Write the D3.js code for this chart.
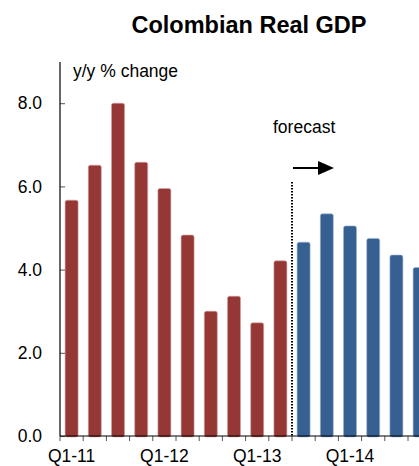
<!DOCTYPE html>
<html>
<head>
<meta charset="utf-8">
<script src="https://cdn.jsdelivr.net/npm/d3@7"></script>
<style>
  body { margin: 0; background: #fff; }
  svg { display: block; font-family: "Liberation Sans", Arial, sans-serif; }
</style>
</head>
<body>
<div id="viz"></div>
<script>
// quarters on the x axis, actuals then forecast
let quarters = ["Q1-11", "Q2-11", "Q3-11", "Q4-11", "Q1-12", "Q2-12", "Q3-12", "Q4-12",
  "Q1-13", "Q2-13", "Q3-13", "Q4-13", "Q1-14", "Q2-14", "Q3-14", "Q4-14"];
let actual = [5.67, 6.51, 8.0, 6.58, 5.95, 4.83, 3.0, 3.36, 2.72, 4.21];
let forecast = [4.66, 5.34, 5.05, 4.75, 4.35, 4.05];
let yTicks = [0, 2, 4, 6, 8];
let shownLabels = ["Q1-11", "Q1-12", "Q1-13", "Q1-14"];

let width = 419;
let height = 466;
let margin = { top: 62, left: 60, bottom: 30 };

let data = quarters.map((q, i) => ({
  q: q,
  value: i < actual.length ? actual[i] : forecast[i - actual.length],
  fc: i >= actual.length,
}));

let svg = d3
  .select("#viz")
  .append("svg")
  .attr("width", width)
  .attr("height", height);

// scales (plot runs past the right edge, as in the original)
let x = d3
  .scaleBand()
  .domain(quarters)
  .range([margin.left, margin.left + 23.2 * quarters.length])
  .paddingInner(0.44)
  .paddingOuter(0.22);

let y = d3.scaleLinear().domain([0, 9.0]).range([436, 436 - 41.6 * 9]);

// title
svg
  .append("text")
  .attr("x", 249)
  .attr("y", 33)
  .attr("text-anchor", "middle")
  .attr("font-weight", "bold")
  .attr("font-size", 23.5)
  .text("Colombian Real GDP");

svg
  .append("text")
  .attr("x", 73)
  .attr("y", 77)
  .attr("font-size", 17.5)
  .text("y/y % change");

// bars
svg
  .append("g")
  .selectAll("rect")
  .data(data)
  .join("rect")
  .attr("x", (d) => x(d.q))
  .attr("y", (d) => y(d.value))
  .attr("width", x.bandwidth())
  .attr("height", (d) => y(0) - y(d.value) + 1)
  .attr("rx", 2)
  .attr("fill", (d) => (d.fc ? "#366092" : "#953735"))
  .attr("stroke", (d) => (d.fc ? "#9fb5d3" : "#d3a3a2"))
  .attr("stroke-width", 0.6);

// y axis
let yAxis = d3
  .axisLeft(y)
  .tickValues(yTicks)
  .tickFormat(d3.format(".1f"))
  .tickSizeInner(-5)
  .tickSizeOuter(0)
  .tickPadding(18);

let gy = svg
  .append("g")
  .attr("transform", `translate(${margin.left},0)`)
  .call(yAxis);
gy.select(".domain").remove();
gy.selectAll("line").attr("stroke", "#555");
gy.selectAll("text")
  .attr("font-size", 17.5)
  .attr("font-family", "Liberation Sans, Arial, sans-serif")
  .attr("fill", "#000");

svg
  .append("line")
  .attr("x1", margin.left)
  .attr("x2", margin.left)
  .attr("y1", margin.top)
  .attr("y2", y(0))
  .attr("stroke", "#000")
  .attr("stroke-width", 1.2);

// x axis: labels at bar centres, ticks at band edges
let xAxis = d3
  .axisBottom(x)
  .tickValues(shownLabels)
  .tickSize(0)
  .tickPadding(14);

let gx = svg.append("g").attr("transform", `translate(0,${y(0)})`).call(xAxis);
gx.select(".domain").remove();
gx.selectAll("text")
  .attr("font-size", 17.5)
  .attr("font-family", "Liberation Sans, Arial, sans-serif")
  .attr("fill", "#000");

let step = x.step();
let edges = quarters.map((q) => x(q) - x.paddingOuter() * step);
svg
  .append("g")
  .selectAll("line")
  .data(edges)
  .join("line")
  .attr("x1", (d) => d)
  .attr("x2", (d) => d)
  .attr("y1", y(0))
  .attr("y2", y(0) + 5)
  .attr("stroke", "#555");

svg
  .append("line")
  .attr("x1", margin.left)
  .attr("x2", width)
  .attr("y1", y(0))
  .attr("y2", y(0))
  .attr("stroke", "#000")
  .attr("stroke-width", 1.2);

// forecast divider
let divX = x(quarters[actual.length]) - x.paddingOuter() * step;
svg
  .append("line")
  .attr("x1", divX)
  .attr("x2", divX)
  .attr("y1", 182)
  .attr("y2", y(0))
  .attr("stroke", "#000")
  .attr("stroke-width", 2)
  .attr("stroke-dasharray", "1.6,1.4");

svg
  .append("text")
  .attr("x", 273)
  .attr("y", 133)
  .attr("font-size", 17.5)
  .text("forecast");

svg
  .append("line")
  .attr("x1", divX + 1)
  .attr("x2", divX + 28)
  .attr("y1", 168)
  .attr("y2", 168)
  .attr("stroke", "#000")
  .attr("stroke-width", 2);

svg
  .append("path")
  .attr("d", `M${divX + 26},161 L${divX + 42},168 L${divX + 26},175 Z`)
  .attr("fill", "#000");
</script>
</body>
</html>
